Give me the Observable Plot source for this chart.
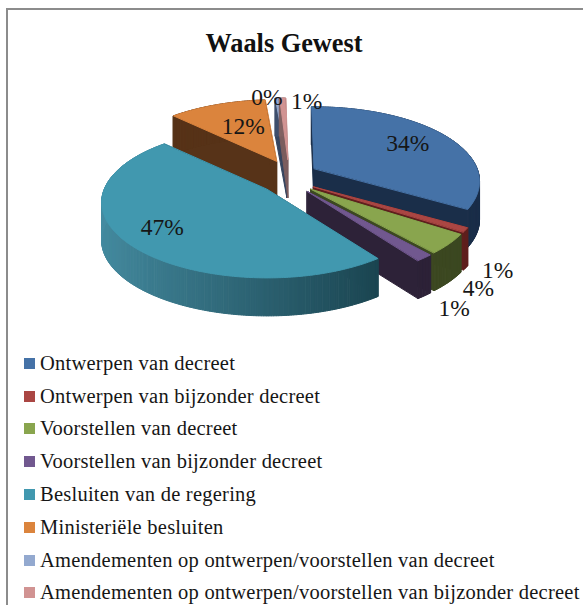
<!DOCTYPE html>
<html lang="nl">
<head>
<meta charset="utf-8">
<title>Waals Gewest</title>
<script src="https://cdn.jsdelivr.net/npm/d3@7"></script>
<script src="https://cdn.jsdelivr.net/npm/@observablehq/plot@0.6"></script>
<style>
  html, body { margin: 0; padding: 0; background: #fff; overflow: hidden; width: 583px; height: 605px; }
  body { position: relative; font-family: "Liberation Serif", serif; color: #161616; }
  #frame { position: absolute; left: 6px; top: 8px; width: 577px; height: 597px; box-sizing: border-box; border-left: 2px solid #8c8c8c; border-top: 2px solid #8c8c8c; }
  #title { position: absolute; left: 0; width: 568px; top: 30px; text-align: center; font-weight: bold; font-size: 26.3px; line-height: 28px; color: #111; }
  #chart { position: absolute; left: 0; top: 0; }
  #legend { position: absolute; left: 24px; top: 347px; width: 559px; height: 258px; overflow: hidden; }
  .row { height: 32.8px; display: flex; align-items: center; white-space: nowrap; font-size: 20.5px; letter-spacing: 0.24px; }
  .sw { width: 11px; height: 11px; margin-right: 5px; flex: none; }
</style>
</head>
<body>
<div id="frame"></div>
<div id="title">Waals Gewest</div>
<div id="chart"></div>
<div id="legend"></div>
<script>
// Data
const categories = [
  "Ontwerpen van decreet",
  "Ontwerpen van bijzonder decreet",
  "Voorstellen van decreet",
  "Voorstellen van bijzonder decreet",
  "Besluiten van de regering",
  "Ministeriële besluiten",
  "Amendementen op ontwerpen/voorstellen van decreet",
  "Amendementen op ontwerpen/voorstellen van bijzonder decreet"
];
const shares = [33.7, 0.9, 4.2, 1.49, 47.4, 11.5, 0.4, 0.7];
const topColors = ["#4572a7", "#aa4643", "#89a54e", "#71588f", "#4198af", "#db843d", "#93a9cf", "#d19392"];
const sideDark = ["#1a2e49", "#5f1f1d", "#3c4821", "#2d2238", "#1b4551", "#573318", "#36455f", "#7b5d5e"];
const sideLight = ["#1a2e49", "#6d2422", "#3c4821", "#2d2238", "#458ca1", "#573318", "#4a5d80", "#8b6a6a"];

// Projection of the tilted, exploded pie (layout only)
const view = {cx: 288.5, cy: 177, ex: 29, ey: 18, R: 163, T: 75, k: 0.18, depth: 38, rot: -1};
const drawOrder = [5, 6, 7, 0, 1, 2, 3, 4];
// label placement: radius along the slice's middle angle, then a nudge
const labelRadius = [0.69, 1.22, 1.24, 1.28, 0.75, 0.6, 1, 1];
const labelNudge = [[3, 0], [-5, 30], [-8, 30], [-8, 29], [-5, -2], [5, 2], [-10, -1], [24, 3]];

const rad = Math.PI / 180;
const arcs = d3.pie().sort(null).startAngle(view.rot * rad).endAngle((360 + view.rot) * rad)(shares);

function apexOf(a) {
  const m = (a.startAngle + a.endAngle) / 2;
  return [view.cx + view.ex * Math.sin(m), view.cy - view.ey * Math.cos(m)];
}
function project(a, theta, r = 1, drop = 0) {
  const [ax, ay] = apexOf(a);
  const u = r * Math.sin(theta), v = -r * Math.cos(theta), s = 1 + view.k * v;
  return {x: ax + u * view.R * s, y: ay + v * view.T * s + drop};
}
function arcAngles(a) {
  const n = Math.max(2, Math.ceil((a.endAngle - a.startAngle) / (0.75 * rad)));
  return d3.range(n + 1).map(j => a.startAngle + (a.endAngle - a.startAngle) * j / n);
}

const polygons = [];
function addPolygon(id, color, pts) {
  for (const p of pts) polygons.push({id, color, x: p.x, y: p.y});
}
for (const i of drawOrder) {
  const a = arcs[i];
  const [ax, ay] = apexOf(a);
  const apex = {x: ax, y: ay}, apexLow = {x: ax, y: ay + view.depth};
  // radial cut faces
  for (const [name, th] of [["s", a.startAngle], ["e", a.endAngle]]) {
    addPolygon(`cut${name}${i}`, sideDark[i], [apex, project(a, th), project(a, th, 1, view.depth), apexLow]);
  }
  // outer wall, shaded strip by strip
  const angles = arcAngles(a);
  const shade = d3.interpolateRgb(sideDark[i], sideLight[i]);
  angles.slice(1).forEach((th, j) => {
    const t0 = angles[j];
    const t = Math.max(0, Math.min(1, (0.59 - Math.sin((t0 + th) / 2)) / 1.59));
    addPolygon(`wall${i}-${j}`, shade(t), [project(a, t0), project(a, th), project(a, th, 1, view.depth), project(a, t0, 1, view.depth)]);
  });
  // top surface
  addPolygon(`top${i}`, topColors[i], [apex, ...angles.map(th => project(a, th))]);
}

const labels = arcs.map((a, i) => {
  const m = (a.startAngle + a.endAngle) / 2;
  const p = project(a, m, labelRadius[i]);
  return {text: `${Math.round(shares[i])}%`, x: p.x + labelNudge[i][0], y: p.y + labelNudge[i][1]};
});

const plot = Plot.plot({
  width: 583,
  height: 347,
  margin: 0,
  style: {background: "transparent", overflow: "visible"},
  x: {domain: [0, 583], range: [0, 583], axis: null},
  y: {domain: [0, 347], range: [0, 347], axis: null},
  color: {type: "identity"},
  marks: [
    Plot.line(polygons, {x: "x", y: "y", z: "id", fill: "color", stroke: "color", strokeWidth: 1, curve: "linear-closed"}),
    Plot.text(labels, {x: "x", y: "y", text: "text", fontSize: 23.5, fontFamily: "Liberation Serif", fill: "#161616"})
  ]
});
document.getElementById("chart").append(plot);

const legend = d3.select("#legend");
categories.forEach((c, i) => {
  const row = legend.append("div").attr("class", "row");
  row.append("span").attr("class", "sw").style("background", topColors[i]);
  row.append("span").text(c);
});
</script>
</body>
</html>
